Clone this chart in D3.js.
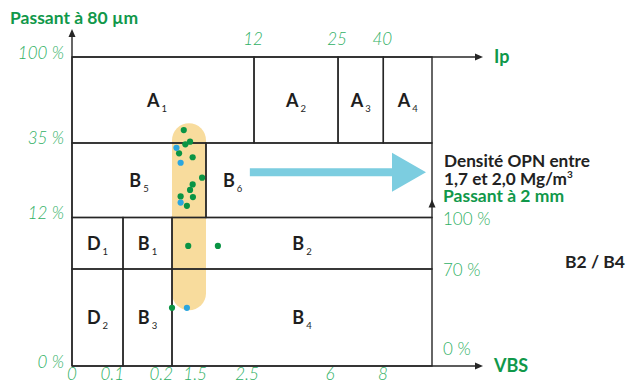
<!DOCTYPE html>
<html><head><meta charset="utf-8">
<script src="https://cdn.jsdelivr.net/npm/d3@7/dist/d3.min.js"></script>
<style>
html,body{margin:0;padding:0;background:#fff;}
svg{display:block;font-family:Lato,"Open Sans",sans-serif;}
</style></head>
<body>
<svg id="c" width="627" height="383"></svg>
<script>
// ---- data ----
const vbsTicks = [0, 0.1, 0.2, 1.5, 2.5, 6, 8];
const vbsMax = 10;
const ipTicks = [12, 25, 40];
const ipMax = 60;
const passant80Ticks = [100, 35, 12, 0];
const passant2Ticks = [100, 70, 0];
const greenPoints = [
  [0.65,44.8],[0.71,34.6],[0.89,36.0],[0.47,31.8],[0.99,30.6],[1.35,24.3],
  [0.99,22.2],[0.89,20.5],[0.53,18.5],[1.00,18.3],[0.77,15.6],[0.82,9.7],
  [1.79,9.7],[0.2,4.7]
];
const bluePoints = [[0.37,33.5],[0.53,28.9],[0.53,16.6],[0.77,4.7]];
// band of the studied materials (VBS range, passant 80 µm range)
const bandVbs = [0.2, 1.5];
const bandPassant = [4.5, 50];
const zonesA = [
  {n:"A",s:"1",x0:0,x1:12,lab:5.6},{n:"A",s:"2",x0:12,x1:25},
  {n:"A",s:"3",x0:25,x1:40},{n:"A",s:"4",x0:40,x1:ipMax}
];
const zonesB = [
  {n:"B",s:"5",x0:0,x1:1.5},{n:"B",s:"6",x0:1.5,x1:vbsMax,lab:2.15}
];
const zonesUpper = [
  {n:"D",s:"1",x0:0,x1:0.1},{n:"B",s:"1",x0:0.1,x1:0.2},{n:"B",s:"2",x0:0.2,x1:vbsMax}
];
const zonesLower = [
  {n:"D",s:"2",x0:0,x1:0.1},{n:"B",s:"3",x0:0.1,x1:0.2},{n:"B",s:"4",x0:0.2,x1:vbsMax}
];

// ---- layout ----
const L=72, R=432, T=57, B=366;
const PW=R-L, PH=B-T;
const svg = d3.select("#c");
const ink="#262626", green="#10984a", light="#2fb064";

const x = d3.scaleLinear().domain([...vbsTicks, vbsMax])
  .range([0,0.1417,0.2778,0.3722,0.4861,0.7167,0.8639,1].map(f=>L+f*PW));
const xi = d3.scaleLinear().domain([0, ...ipTicks, ipMax])
  .range([0,0.5056,0.739,0.8648,1].map(f=>L+f*PW));
const y = d3.scaleLinear().domain([0,12,35,100])
  .range([0,0.4806,0.7217,1].map(f=>B-f*PH));
const y2 = d3.scaleLinear().domain([0,70,100]);
y2.range([B, B+(y(12)-B)*0.6532, y(12)]);

// band
const bw = x(bandVbs[1])-x(bandVbs[0]);
svg.append("rect").attr("x",x(bandVbs[0])).attr("y",y(bandPassant[1]))
  .attr("width",bw).attr("height",y(bandPassant[0])-y(bandPassant[1]))
  .attr("rx",bw/2).attr("ry",bw/2).attr("fill","#f8dc9d");

// zones
const g = svg.append("g").attr("fill","none").attr("stroke",ink).attr("stroke-width",1.4);
function drawZones(zs, xs, ytop, ybot){
  zs.forEach(z=>{
    g.append("rect").attr("x",xs(z.x0)).attr("y",ytop)
      .attr("width",xs(z.x1)-xs(z.x0)).attr("height",ybot-ytop);
  });
}
drawZones(zonesA, xi, y(100), y(35));
drawZones(zonesB, x, y(35), y(12));
drawZones(zonesUpper, x, y2(100), y2(70));
drawZones(zonesLower, x, y2(70), y2(0));

// axes lines + arrows
function line(x1,y1,x2,y2_){
  g.append("line").attr("x1",x1).attr("y1",y1).attr("x2",x2).attr("y2",y2_);
}
line(L,B,L,T-24);
line(L,T,R+45,T);
line(L,B,R+45,B);
const heads = [[L,T-28,"up"],[R+51,T,"right"],[R+51,B,"right"],[R,y2(100)-18,"up"]];
heads.forEach(([hx,hy,d])=>{
  const p = d==="up" ? [[hx,hy],[hx-3.5,hy+8],[hx+3.5,hy+8]] : [[hx,hy],[hx-8,hy-3.5],[hx-8,hy+3.5]];
  svg.append("path").attr("d","M"+p.join("L")+"Z").attr("fill",ink);
});

// points
svg.append("g").selectAll("circle").data(greenPoints).join("circle")
  .attr("cx",d=>x(d[0])).attr("cy",d=>y(d[1])).attr("r",3.1).attr("fill","#0a9444");
svg.append("g").selectAll("circle").data(bluePoints).join("circle")
  .attr("cx",d=>x(d[0])).attr("cy",d=>y(d[1])).attr("r",3.1).attr("fill","#2aa6df");

// zone labels
function zoneLabels(zs, xs, ytop, ybot){
  zs.forEach(z=>{
    const cx = z.lab!==undefined ? xs(z.lab) : (xs(z.x0)+xs(z.x1))/2;
    const t = svg.append("text").attr("x",cx).attr("y",(ytop+ybot)/2+7)
      .attr("text-anchor","middle").attr("font-size",18).attr("font-weight","bold").attr("fill","#1e1e1e");
    t.append("tspan").text(z.n);
    t.append("tspan").attr("font-size",9.5).attr("font-weight","normal").attr("dy",5).attr("dx",2).text(z.s);
  });
}
zoneLabels(zonesA, xi, y(100), y(35));
zoneLabels(zonesB, x, y(35), y(12));
zoneLabels(zonesUpper, x, y2(100), y2(70));
zoneLabels(zonesLower, x, y2(70), y2(0));

// big cyan arrow
const ay = y(26), ax0 = x(2.62), ax1 = R-6;
svg.append("path").attr("fill","#7ccde0")
  .attr("d",`M${ax0},${ay-4}L${ax1-34},${ay-4}L${ax1-34},${ay-19.5}L${ax1},${ay}L${ax1-34},${ay+19.5}L${ax1-34},${ay+4}L${ax0},${ay+4}Z`);

// tick labels
const tick = {"font-size":17,"font-weight":300,"fill":light};
function applyAttrs(sel,o){Object.entries(o).forEach(([k,v])=>sel.attr(k,v));return sel;}
passant80Ticks.forEach(v=>{
  applyAttrs(svg.append("text"),tick).attr("font-style","italic")
    .attr("x",L-8).attr("y",y(v)+1.5).attr("text-anchor","end").text(v+" %");
});
ipTicks.forEach(v=>{
  applyAttrs(svg.append("text"),tick).attr("font-style","italic")
    .attr("x",xi(v)-1).attr("y",T-12).attr("text-anchor","middle").text(v);
});
vbsTicks.forEach(v=>{
  const endA = v>0 && v<2;
  applyAttrs(svg.append("text"),tick).attr("font-style","italic")
    .attr("x",endA ? x(v)+1 : x(v)).attr("y",B+14)
    .attr("text-anchor",endA?"end":"middle").text(v);
});
passant2Ticks.forEach(v=>{
  applyAttrs(svg.append("text"),tick)
    .attr("x",R+11).attr("y",v===0 ? B-11 : y2(v)+7.5).text(v+" %");
});

// titles
function bold(tx,xx,yy,col,size){
  return svg.append("text").attr("x",xx).attr("y",yy).attr("font-size",size||17)
    .attr("font-weight","bold").attr("fill",col).text(tx);
}
bold("Passant à 80 µm",10,24,green,17.5);
bold("Ip",R+62,T+6,green,18);
bold("VBS",R+62,B+6,green,18);
bold("Densité OPN entre",R+12,167,"#222",17.2);
const t2 = bold("",R+12,185,"#222",17.2);
t2.append("tspan").text("1,7 et 2,0 Mg/m");
t2.append("tspan").attr("font-size",10).attr("dy",-7).text("3");
bold("Passant à 2 mm",R+11,202,green,17.5);
bold("B2 / B4",565,267.5,"#222",17.5);
</script>
</body></html>
